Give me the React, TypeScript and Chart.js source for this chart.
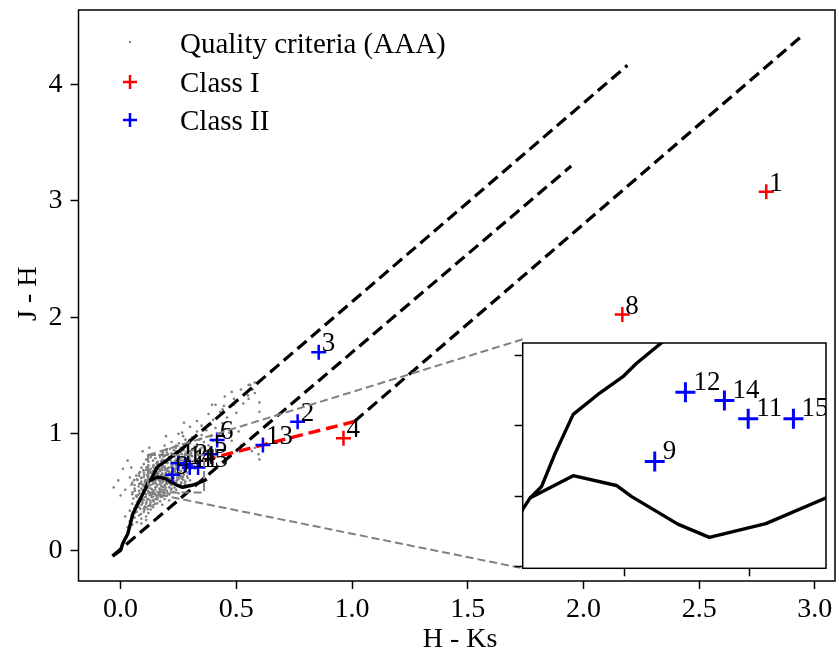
import React, { useEffect, useRef } from "react";
import { Chart, registerables } from "chart.js";

Chart.register(...registerables);

const SERIF = '"Liberation Serif", "Times New Roman", serif';

// Main panel: H - Ks (x) against J - H (y)
const mainHKRange = [-0.182, 3.087];
const mainJHRange = [-0.264, 4.64];
const mainHKTicks = [0, 0.5, 1, 1.5, 2, 2.5, 3];
const mainHKTickLabels = ["0.0", "0.5", "1.0", "1.5", "2.0", "2.5", "3.0"];
const mainJHTicks = [0, 1, 2, 3, 4];
const mainJHTickLabels = ["0", "1", "2", "3", "4"];

// Zoom window shown in the inset
const zoomHKRange = [0.1186, 0.3607];
const zoomJHRange = [0.497, 0.818];
const zoomHKTicks = [0.2, 0.3];
const zoomJHTicks = [0.5, 0.6, 0.7, 0.8];

// Class I sources
const class1Ids = ["1", "8", "4"];
const class1HK = [2.79, 2.168, 0.963];
const class1JH = [3.079, 2.024, 0.961];

// Class II sources
const class2Ids = ["2", "3", "13", "6", "5", "9", "12", "14", "11", "15"];
const class2HK = [0.765, 0.856, 0.615, 0.417, 0.39, 0.224, 0.2485, 0.2796, 0.2986, 0.3347];
const class2JH = [1.103, 1.7, 0.904, 0.947, 0.825, 0.649, 0.748, 0.736, 0.71, 0.71];

// Main-sequence (dwarf) locus
const dwarfHK = [-0.035, 0.0, 0.009, 0.031, 0.053, 0.103, 0.1186, 0.1244, 0.1589, 0.1934, 0.2053, 0.2424, 0.2676, 0.3127, 0.3605, 0.372];
const dwarfJH = [-0.05, 0.0, 0.057, 0.142, 0.313, 0.512, 0.581, 0.597, 0.629, 0.615, 0.5995, 0.5599, 0.541, 0.5607, 0.597, 0.612];

// Giant branch
const giantHK = [0.1244, 0.1337, 0.1443, 0.1589, 0.1801, 0.1986, 0.2093, 0.2292, 0.26, 0.282, 0.292];
const giantJH = [0.597, 0.6136, 0.66, 0.7163, 0.7467, 0.77, 0.7888, 0.818, 0.862, 0.9, 0.925];

// Reddening vectors (start, end)
const reddenTopHK = [0.292, 2.19];
const reddenTopJH = [0.925, 4.165];
const reddenMidHK = [-0.035, 1.947];
const reddenMidJH = [-0.05, 3.3];
const reddenLowHK = [1.01, 2.94];
const reddenLowJH = [1.106, 4.41];

// Classical T Tauri locus
const cttsHK = [0.36, 1.01];
const cttsJH = [0.775, 1.106];

// Field stars passing the AAA quality criteria: [H-Ks, J-H]
const fieldStars: number[][] = [
  [0.03, 0.2], [0.05, 0.22], [0.04, 0.25], [0.07, 0.24], [0.06, 0.28], [0.09, 0.27], [0.05, 0.31], [0.08, 0.3],
  [0.11, 0.29], [0.07, 0.33], [0.1, 0.33], [0.12, 0.32], [0.04, 0.34], [0.13, 0.35], [0.02, 0.29], [0.09, 0.23],
  [0.11, 0.26], [0.06, 0.36], [0.08, 0.37], [0.1, 0.36], [0.12, 0.38], [0.14, 0.37], [0.09, 0.39], [0.11, 0.4],
  [0.13, 0.41], [0.07, 0.41], [0.15, 0.4], [0.17, 0.42], [0.1, 0.43], [0.12, 0.44], [0.14, 0.43], [0.16, 0.45],
  [0.08, 0.44], [0.19, 0.44], [0.05, 0.4], [0.13, 0.38], [0.18, 0.39], [0.11, 0.37], [0.15, 0.44], [0.09, 0.42],
  [0.21, 0.43], [0.07, 0.46], [0.09, 0.47], [0.11, 0.46], [0.13, 0.47], [0.15, 0.48], [0.17, 0.47], [0.19, 0.49],
  [0.21, 0.48], [0.1, 0.49], [0.12, 0.5], [0.14, 0.51], [0.16, 0.5], [0.18, 0.52], [0.2, 0.51], [0.22, 0.53],
  [0.08, 0.51], [0.11, 0.52], [0.13, 0.53], [0.15, 0.54], [0.17, 0.53], [0.19, 0.55], [0.24, 0.52], [0.06, 0.53],
  [0.1, 0.55], [0.12, 0.54], [0.14, 0.46], [0.16, 0.47], [0.18, 0.46], [0.23, 0.5], [0.25, 0.49], [0.09, 0.53],
  [0.21, 0.54], [0.26, 0.54], [0.05, 0.48], [0.13, 0.49], [0.17, 0.51], [0.2, 0.47], [0.11, 0.48], [0.15, 0.52],
  [0.19, 0.52], [0.06, 0.56], [0.08, 0.57], [0.1, 0.56], [0.12, 0.58], [0.14, 0.57], [0.16, 0.56], [0.18, 0.58],
  [0.2, 0.57], [0.22, 0.56], [0.24, 0.58], [0.26, 0.57], [0.28, 0.59], [0.09, 0.59], [0.11, 0.6], [0.13, 0.61],
  [0.15, 0.6], [0.17, 0.62], [0.19, 0.61], [0.21, 0.6], [0.23, 0.62], [0.25, 0.61], [0.27, 0.63], [0.29, 0.62],
  [0.07, 0.61], [0.1, 0.63], [0.12, 0.62], [0.14, 0.64], [0.16, 0.63], [0.18, 0.65], [0.2, 0.64], [0.22, 0.63],
  [0.24, 0.65], [0.26, 0.64], [0.13, 0.56], [0.15, 0.58], [0.17, 0.59], [0.19, 0.56], [0.21, 0.58], [0.23, 0.59],
  [0.11, 0.57], [0.05, 0.58], [0.08, 0.64], [0.3, 0.6], [0.14, 0.6], [0.16, 0.61], [0.18, 0.6], [0.2, 0.62],
  [0.22, 0.61], [0.12, 0.64], [0.28, 0.56], [0.25, 0.63], [0.09, 0.62], [0.15, 0.65], [0.17, 0.57], [0.19, 0.64],
  [0.21, 0.65], [0.08, 0.66], [0.1, 0.67], [0.12, 0.66], [0.14, 0.68], [0.16, 0.67], [0.18, 0.66], [0.2, 0.68],
  [0.22, 0.67], [0.24, 0.66], [0.26, 0.68], [0.28, 0.67], [0.3, 0.69], [0.11, 0.69], [0.13, 0.7], [0.15, 0.71],
  [0.17, 0.7], [0.19, 0.72], [0.21, 0.71], [0.23, 0.7], [0.25, 0.72], [0.27, 0.71], [0.29, 0.73], [0.31, 0.72],
  [0.09, 0.71], [0.12, 0.73], [0.14, 0.72], [0.16, 0.74], [0.18, 0.73], [0.2, 0.75], [0.22, 0.74], [0.24, 0.73],
  [0.26, 0.75], [0.28, 0.74], [0.32, 0.7], [0.15, 0.66], [0.17, 0.68], [0.19, 0.69], [0.21, 0.66], [0.23, 0.68],
  [0.25, 0.69], [0.13, 0.67], [0.1, 0.74], [0.33, 0.74], [0.27, 0.66], [0.16, 0.7], [0.18, 0.71], [0.2, 0.7],
  [0.22, 0.72], [0.24, 0.71], [0.12, 0.76], [0.14, 0.77], [0.16, 0.76], [0.18, 0.78], [0.2, 0.77], [0.22, 0.76],
  [0.24, 0.78], [0.26, 0.77], [0.28, 0.79], [0.3, 0.78], [0.32, 0.77], [0.15, 0.79], [0.17, 0.8], [0.19, 0.81],
  [0.21, 0.8], [0.23, 0.82], [0.25, 0.81], [0.27, 0.8], [0.29, 0.82], [0.31, 0.81], [0.34, 0.8], [0.18, 0.83],
  [0.2, 0.84], [0.22, 0.83], [0.24, 0.85], [0.26, 0.84], [0.28, 0.83], [0.3, 0.85], [0.33, 0.84], [0.35, 0.82],
  [0.13, 0.8], [0.11, 0.78], [0.36, 0.78], [0.27, 0.77], [0.21, 0.78], [0.2, 0.87], [0.23, 0.86], [0.26, 0.88],
  [0.29, 0.87], [0.32, 0.89], [0.35, 0.88], [0.38, 0.9], [0.24, 0.9], [0.27, 0.91], [0.3, 0.92], [0.33, 0.91],
  [0.36, 0.93], [0.22, 0.93], [0.28, 0.95], [0.34, 0.95], [0.4, 0.94], [0.19, 0.9], [0.31, 0.86], [0.27, 0.98],
  [0.31, 0.97], [0.35, 0.99], [0.39, 0.98], [0.43, 1.0], [0.33, 1.02], [0.37, 1.03], [0.41, 1.05], [0.45, 1.04],
  [0.3, 1.06], [0.39, 1.08], [0.44, 1.09], [0.47, 1.01], [0.25, 1.0], [0.4, 1.12], [0.46, 1.14], [0.38, 1.17],
  [0.43, 1.19], [0.5, 1.18], [0.47, 1.23], [0.41, 1.25], [0.53, 1.26], [0.49, 1.3], [0.45, 1.32], [0.55, 1.33],
  [0.52, 1.38], [0.56, 1.42], [0.48, 1.36], [0.58, 1.44], [0.44, 1.21], [0.105, 0.455], [0.125, 0.475],
  [0.145, 0.495], [0.165, 0.485], [0.185, 0.505], [0.095, 0.515], [0.115, 0.535], [0.135, 0.525], [0.155, 0.545],
  [0.175, 0.555], [0.195, 0.535], [0.215, 0.565], [0.085, 0.575], [0.105, 0.585], [0.125, 0.605], [0.145, 0.595],
  [0.165, 0.615], [0.185, 0.595], [0.205, 0.625], [0.225, 0.605], [0.245, 0.625], [0.265, 0.615], [0.115, 0.645],
  [0.135, 0.635], [0.155, 0.655], [0.175, 0.645], [0.195, 0.665], [0.215, 0.655], [0.235, 0.675], [0.255, 0.665],
  [0.275, 0.685], [0.125, 0.685], [0.145, 0.705], [0.165, 0.695], [0.185, 0.715], [0.205, 0.705], [0.225, 0.725],
  [0.245, 0.715], [0.265, 0.735], [0.285, 0.725], [0.155, 0.745], [0.175, 0.765], [0.195, 0.755], [0.215, 0.775],
  [0.235, 0.765], [0.255, 0.785], [0.275, 0.775], [0.295, 0.795], [0.185, 0.805], [0.205, 0.825], [0.225, 0.815],
  [0.245, 0.835], [0.265, 0.825], [0.285, 0.845], [0.305, 0.835], [0.075, 0.425], [0.095, 0.405], [0.115, 0.435],
  [0.135, 0.455], [0.065, 0.385], [0.085, 0.355], [0.105, 0.375], [0.075, 0.475], [0.055, 0.445], [-0.03, 0.54],
  [0.01, 0.7], [0.046, 0.71], [0.04, 0.625], [0.095, 0.85], [0.124, 0.88], [-0.01, 0.6], [0.02, 0.52], [0.0, 0.47],
  [0.03, 0.77], [0.58, 0.88], [0.596, 0.825], [0.6, 0.78], [0.567, 0.853], [0.51, 1.02], [0.48, 0.94], [0.52, 0.9],
  [0.553, 1.42], [0.395, 1.25], [0.446, 1.24], [0.49, 1.25], [0.553, 1.3], [0.58, 1.35], [0.6, 1.27], [0.6, 1.19],
  [0.57, 1.38], [0.274, 1.095], [0.33, 1.11], [0.266, 1.01], [0.196, 0.98], [0.35, 1.07],
  [0.062, 0.512], [0.078, 0.548], [0.093, 0.566], [0.107, 0.602], [0.121, 0.553], [0.138, 0.588], [0.152, 0.572],
  [0.168, 0.598], [0.183, 0.627], [0.197, 0.583], [0.212, 0.612], [0.228, 0.641], [0.243, 0.597], [0.257, 0.652],
  [0.272, 0.604], [0.287, 0.638], [0.073, 0.603], [0.088, 0.622], [0.102, 0.651], [0.118, 0.628], [0.133, 0.662],
  [0.148, 0.683], [0.163, 0.657], [0.178, 0.688], [0.193, 0.702], [0.208, 0.678], [0.223, 0.708], [0.238, 0.693],
  [0.253, 0.718], [0.268, 0.702], [0.283, 0.757], [0.298, 0.742], [0.313, 0.762], [0.142, 0.732], [0.158, 0.758],
  [0.172, 0.738], [0.188, 0.772], [0.203, 0.749], [0.218, 0.792], [0.233, 0.803], [0.248, 0.768], [0.263, 0.796],
  [0.278, 0.812], [0.292, 0.771], [0.307, 0.808], [0.322, 0.792], [0.338, 0.818], [0.112, 0.712], [0.098, 0.688],
  [0.083, 0.672], [0.068, 0.641], [0.058, 0.602], [0.047, 0.562], [0.052, 0.498], [0.067, 0.467], [0.082, 0.488],
  [0.097, 0.438], [0.112, 0.415], [0.128, 0.428], [0.143, 0.418], [0.158, 0.436], [0.173, 0.458], [0.188, 0.472],
  [0.203, 0.492], [0.218, 0.518], [0.233, 0.538], [0.247, 0.556], [0.262, 0.583], [0.277, 0.572], [0.127, 0.392],
  [0.142, 0.388], [0.158, 0.402], [0.072, 0.395], [0.088, 0.312], [0.103, 0.347], [0.118, 0.352], [0.062, 0.322],
  [0.047, 0.292], [0.138, 0.482], [0.153, 0.468], [0.122, 0.502], [0.168, 0.528], [0.182, 0.542], [0.197, 0.572],
  [0.213, 0.586], [0.228, 0.578], [0.243, 0.602], [0.258, 0.628], [0.273, 0.648], [0.288, 0.668], [0.303, 0.702],
  [0.318, 0.725], [0.332, 0.752], [0.347, 0.772], [0.168, 0.818], [0.183, 0.842], [0.198, 0.858], [0.213, 0.872],
  [0.238, 0.878], [0.258, 0.862], [0.272, 0.858], [0.318, 0.862], [0.343, 0.868], [0.362, 0.892], [0.252, 0.918],
  [0.298, 0.948], [0.322, 0.972], [0.348, 0.958],
];

// Page layout (pixels)
const MAIN_W = 845;
const MAIN_H = 657;
const MAIN_AREA = { left: 78.5, top: 6.5, right: 841, bottom: 581 };
const INSET_POS = { left: 506, top: 330, width: 333, height: 262 };
const INSET_AREA = { left: 16.7, top: 9.3, right: 321.3, bottom: 238.3 };

const pts = (xs: number[], ys: number[]) => xs.map((x, i) => ({ x, y: ys[i] }));

const lineSet = (data: any[], color: string, width: number, dash: number[], order: number) => ({
  data,
  showLine: true,
  borderColor: color,
  borderWidth: width,
  borderDash: dash,
  borderCapStyle: "butt",
  borderJoinStyle: "round",
  pointRadius: 0,
  fill: false,
  tension: 0,
  order,
});

const crossSet = (data: any[], color: string, radius: number, width: number, order: number) => ({
  data,
  showLine: false,
  pointStyle: "cross",
  pointRadius: radius,
  pointBorderColor: color,
  borderColor: color,
  backgroundColor: color,
  pointBorderWidth: width,
  borderWidth: width,
  order,
});

function drawCross(ctx: CanvasRenderingContext2D, x: number, y: number, r: number, color: string, w: number) {
  ctx.save();
  ctx.strokeStyle = color;
  ctx.lineWidth = w;
  ctx.beginPath();
  ctx.moveTo(x - r, y);
  ctx.lineTo(x + r, y);
  ctx.moveTo(x, y - r);
  ctx.lineTo(x, y + r);
  ctx.stroke();
  ctx.restore();
}

const pointLabelsPlugin = (dx: number, dy: number, clip: boolean) => ({
  id: "pointLabels",
  afterDatasetsDraw(chart: any) {
    const { ctx, chartArea, scales } = chart;
    ctx.save();
    if (clip) {
      ctx.beginPath();
      ctx.rect(chartArea.left, chartArea.top, chartArea.right - chartArea.left, chartArea.bottom - chartArea.top);
      ctx.clip();
    }
    ctx.font = `27px ${SERIF}`;
    ctx.fillStyle = "#000";
    ctx.textAlign = "left";
    ctx.textBaseline = "alphabetic";
    const groups = [
      { ids: class1Ids, hk: class1HK, jh: class1JH },
      { ids: class2Ids, hk: class2HK, jh: class2JH },
    ];
    groups.forEach((g) =>
      g.ids.forEach((id, i) => {
        ctx.fillText(id, scales.x.getPixelForValue(g.hk[i]) + dx, scales.y.getPixelForValue(g.jh[i]) + dy);
      })
    );
    ctx.restore();
  },
});

const framePlugin = (fillWhite: boolean) => ({
  id: "frame",
  beforeDatasetsDraw(chart: any) {
    if (!fillWhite) return;
    const { ctx, chartArea: a } = chart;
    ctx.save();
    ctx.fillStyle = "#fff";
    ctx.fillRect(a.left, a.top, a.right - a.left, a.bottom - a.top);
    ctx.restore();
  },
  afterDraw(chart: any) {
    const { ctx, chartArea: a } = chart;
    ctx.save();
    ctx.strokeStyle = "#000";
    ctx.lineWidth = 1.5;
    ctx.strokeRect(a.left, a.top, a.right - a.left, a.bottom - a.top);
    ctx.restore();
  },
});

// Zoom rectangle, connector lines, legend and axis titles of the main panel
const mainDecorPlugin = {
  id: "mainDecor",
  afterDatasetsDraw(chart: any) {
    const { ctx, scales } = chart;
    const x0 = scales.x.getPixelForValue(zoomHKRange[0]);
    const x1 = scales.x.getPixelForValue(zoomHKRange[1]);
    const y0 = scales.y.getPixelForValue(zoomJHRange[1]);
    const y1 = scales.y.getPixelForValue(zoomJHRange[0]);
    const boxLeft = INSET_POS.left + INSET_AREA.left;
    const boxTop = INSET_POS.top + INSET_AREA.top;
    const boxBottom = INSET_POS.top + INSET_AREA.bottom;
    ctx.save();
    ctx.strokeStyle = "#808080";
    ctx.lineWidth = 2;
    ctx.setLineDash([8, 4]);
    ctx.strokeRect(x0, y0, x1 - x0, y1 - y0);
    ctx.beginPath();
    ctx.moveTo(x0, y0);
    ctx.lineTo(boxLeft, boxTop);
    ctx.moveTo(x0, y1);
    ctx.lineTo(boxLeft, boxBottom);
    ctx.stroke();
    ctx.restore();
  },
  afterDraw(chart: any) {
    const { ctx } = chart;
    ctx.save();
    // legend
    ctx.font = `29px ${SERIF}`;
    ctx.textAlign = "left";
    ctx.textBaseline = "middle";
    ctx.fillStyle = "#808080";
    ctx.beginPath();
    ctx.arc(130, 42, 1.2, 0, Math.PI * 2);
    ctx.fill();
    ctx.fillStyle = "#000";
    ctx.fillText("Quality criteria (AAA)", 180, 45);
    drawCross(ctx, 130, 82, 7, "#ff0000", 2.5);
    ctx.fillStyle = "#000";
    ctx.fillText("Class I", 180, 84);
    drawCross(ctx, 130, 120, 7, "#0000ff", 2.5);
    ctx.fillStyle = "#000";
    ctx.fillText("Class II", 180, 122);
    // axis titles
    ctx.font = `28px ${SERIF}`;
    ctx.textAlign = "center";
    ctx.fillText("H - Ks", 460, 640);
    ctx.translate(29, (MAIN_AREA.top + MAIN_AREA.bottom) / 2);
    ctx.rotate(-Math.PI / 2);
    ctx.fillText("J - H", 0, 0);
    ctx.restore();
  },
};

const tickGrid = {
  display: true,
  drawOnChartArea: false,
  drawTicks: true,
  tickLength: 8,
  tickWidth: 1.5,
  tickColor: "#000",
};

export default function App() {
  const mainRef = useRef<HTMLCanvasElement>(null);
  const insetRef = useRef<HTMLCanvasElement>(null);

  useEffect(() => {
    const class1 = pts(class1HK, class1JH);
    const class2 = pts(class2HK, class2JH);
    const dwarf = pts(dwarfHK, dwarfJH);
    const giant = pts(giantHK, giantJH);

    const main = new Chart(mainRef.current as HTMLCanvasElement, {
      type: "scatter",
      data: {
        datasets: [
          crossSet(class2, "#0000ff", 7.5, 2.5, 0),
          crossSet(class1, "#ff0000", 7.5, 2.5, 1),
          lineSet(pts(cttsHK, cttsJH), "#ff0000", 3.4, [12, 6], 2),
          lineSet(pts(reddenTopHK, reddenTopJH), "#000", 3.2, [12, 6], 3),
          lineSet(pts(reddenMidHK, reddenMidJH), "#000", 3.2, [12, 6], 3),
          lineSet(pts(reddenLowHK, reddenLowJH), "#000", 3.2, [12, 6], 3),
          lineSet(dwarf, "#000", 3.4, [], 4),
          lineSet(giant, "#000", 3.4, [], 4),
          {
            data: fieldStars.map(([x, y]) => ({ x, y })),
            showLine: false,
            pointStyle: "circle",
            pointRadius: 1.3,
            pointBorderWidth: 0,
            borderWidth: 0,
            pointBackgroundColor: "#808080",
            backgroundColor: "#808080",
            order: 10,
          },
        ] as any,
      },
      options: {
        responsive: false,
        devicePixelRatio: 1,
        animation: false,
        events: [],
        layout: { padding: { left: 0, top: MAIN_AREA.top, right: MAIN_W - MAIN_AREA.right, bottom: 0 } },
        plugins: { legend: { display: false }, tooltip: { enabled: false } },
        scales: {
          x: {
            type: "linear",
            min: mainHKRange[0],
            max: mainHKRange[1],
            afterBuildTicks: (s: any) => {
              s.ticks = mainHKTicks.map((v) => ({ value: v }));
            },
            afterFit: (s: any) => {
              s.height = MAIN_H - MAIN_AREA.bottom;
              s.paddingLeft = s.paddingRight = s.paddingTop = s.paddingBottom = 0;
            },
            ticks: {
              autoSkip: false,
              maxRotation: 0,
              padding: 4,
              color: "#000",
              font: { family: SERIF, size: 28 },
              callback: (_v: any, i: number) => mainHKTickLabels[i],
            },
            grid: tickGrid,
            border: { display: false },
          },
          y: {
            type: "linear",
            min: mainJHRange[0],
            max: mainJHRange[1],
            afterBuildTicks: (s: any) => {
              s.ticks = mainJHTicks.map((v) => ({ value: v }));
            },
            afterFit: (s: any) => {
              s.width = MAIN_AREA.left;
              s.paddingLeft = s.paddingRight = s.paddingTop = s.paddingBottom = 0;
            },
            ticks: {
              autoSkip: false,
              padding: 8,
              color: "#000",
              font: { family: SERIF, size: 28 },
              callback: (_v: any, i: number) => mainJHTickLabels[i],
            },
            grid: tickGrid,
            border: { display: false },
          },
        },
      } as any,
      plugins: [framePlugin(false), pointLabelsPlugin(3, -1, false), mainDecorPlugin],
    });

    const inset = new Chart(insetRef.current as HTMLCanvasElement, {
      type: "scatter",
      data: {
        datasets: [
          crossSet(class2, "#0000ff", 10, 3, 0),
          crossSet(class1, "#ff0000", 10, 3, 1),
          lineSet(dwarf, "#000", 3.4, [], 4),
          lineSet(giant, "#000", 3.4, [], 4),
        ] as any,
      },
      options: {
        responsive: false,
        devicePixelRatio: 1,
        animation: false,
        events: [],
        layout: {
          padding: { left: 0, top: INSET_AREA.top, right: INSET_POS.width - INSET_AREA.right, bottom: 0 },
        },
        plugins: { legend: { display: false }, tooltip: { enabled: false } },
        scales: {
          x: {
            type: "linear",
            min: zoomHKRange[0],
            max: zoomHKRange[1],
            afterBuildTicks: (s: any) => {
              s.ticks = zoomHKTicks.map((v) => ({ value: v }));
            },
            afterFit: (s: any) => {
              s.height = INSET_POS.height - INSET_AREA.bottom;
              s.paddingLeft = s.paddingRight = s.paddingTop = s.paddingBottom = 0;
            },
            ticks: { display: false },
            grid: tickGrid,
            border: { display: false },
          },
          y: {
            type: "linear",
            min: zoomJHRange[0],
            max: zoomJHRange[1],
            afterBuildTicks: (s: any) => {
              s.ticks = zoomJHTicks.map((v) => ({ value: v }));
            },
            afterFit: (s: any) => {
              s.width = INSET_AREA.left;
              s.paddingLeft = s.paddingRight = s.paddingTop = s.paddingBottom = 0;
            },
            ticks: { display: false },
            grid: tickGrid,
            border: { display: false },
          },
        },
      } as any,
      plugins: [framePlugin(true), pointLabelsPlugin(8, -2.5, true)],
    });

    return () => {
      main.destroy();
      inset.destroy();
    };
  }, []);

  return (
    <div style={{ position: "absolute", left: 0, top: 0, width: 839, height: 657, overflow: "hidden", background: "#fff" }}>
      <canvas
        ref={mainRef}
        width={MAIN_W}
        height={MAIN_H}
        style={{ position: "absolute", left: 0, top: 0, width: MAIN_W, height: MAIN_H }}
      />
      <canvas
        ref={insetRef}
        width={INSET_POS.width}
        height={INSET_POS.height}
        style={{
          position: "absolute",
          left: INSET_POS.left,
          top: INSET_POS.top,
          width: INSET_POS.width,
          height: INSET_POS.height,
        }}
      />
    </div>
  );
}
